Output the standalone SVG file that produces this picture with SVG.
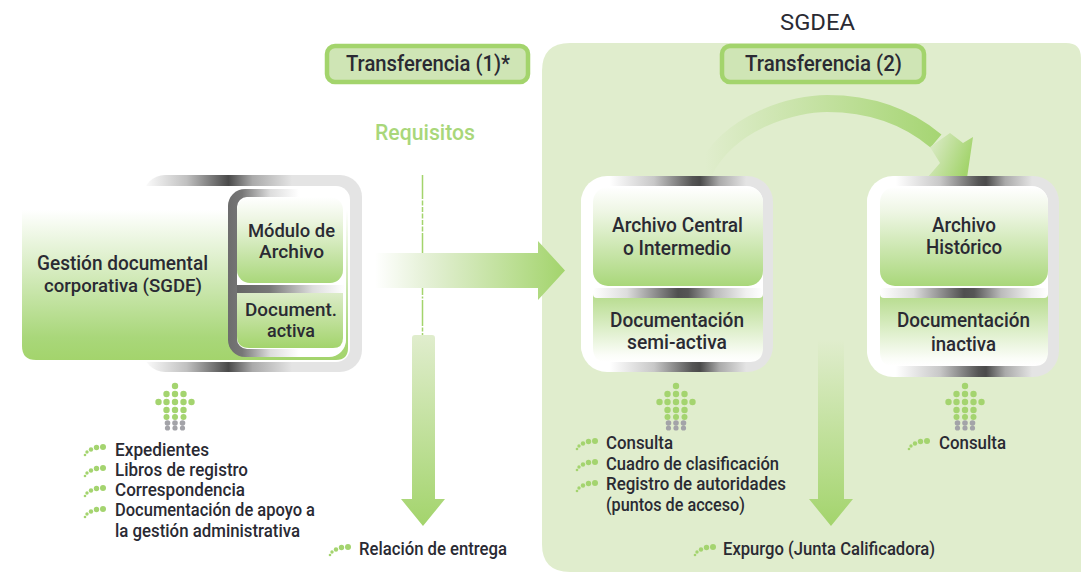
<svg xmlns="http://www.w3.org/2000/svg" width="1081" height="572" viewBox="0 0 1081 572">
<style>
text{font-family:Roboto,"Liberation Sans",sans-serif;font-weight:500;fill:#2a2a33}
.s20{font-size:22.5px}.s19{font-size:22px}.s18{font-size:20px}.s17{font-size:17.800px}.s16{font-size:17.500px}
.g{fill:#a4d46f}.d{fill:#a3a3a8}
.tb{fill:#cfe5b5;stroke:#a3d46c;stroke-width:4.500}
</style>
<defs>
<linearGradient id="top" x1="0" y1="0" x2="0" y2="1"><stop offset="0" stop-color="#fff"/><stop offset=".25" stop-color="#eef6e4"/><stop offset="1" stop-color="#a9d77a"/></linearGradient>
<linearGradient id="sgde" x1="0" y1="0" x2="0" y2="1"><stop offset="0" stop-color="#fff"/><stop offset=".85" stop-color="#a9d77a"/><stop offset="1" stop-color="#a3d46c"/></linearGradient>
<linearGradient id="low" x1="0" y1="0" x2="0" y2="1"><stop offset="0" stop-color="#b3da88"/><stop offset=".9" stop-color="#fbfdf8"/><stop offset="1" stop-color="#fff"/></linearGradient>
<linearGradient id="act" x1="0" y1="0" x2="0" y2="1"><stop offset="0" stop-color="#dcecc8"/><stop offset="1" stop-color="#a3d46c"/></linearGradient>
<linearGradient id="frame" x1="0" y1="0" x2="1" y2="0"><stop offset="0" stop-color="#fff"/><stop offset=".15" stop-color="#fff"/><stop offset=".38" stop-color="#c8c8c8"/><stop offset=".58" stop-color="#555"/><stop offset=".62" stop-color="#4a4a4a"/><stop offset=".72" stop-color="#aaa"/><stop offset=".86" stop-color="#e4e4e4"/><stop offset="1" stop-color="#e4e4e4"/></linearGradient>
<linearGradient id="frame0" x1="0" y1="0" x2="1" y2="0"><stop offset="0" stop-color="#fff"/><stop offset=".2" stop-color="#c0c0c0"/><stop offset=".39" stop-color="#4a4a4a"/><stop offset=".5" stop-color="#aaa"/><stop offset=".68" stop-color="#e4e4e4"/><stop offset="1" stop-color="#e4e4e4"/></linearGradient>
<linearGradient id="bar" x1="0" y1="0" x2="1" y2="0"><stop offset="0" stop-color="#fff"/><stop offset=".2" stop-color="#ddd"/><stop offset=".5" stop-color="#4f4f4f"/><stop offset=".56" stop-color="#555"/><stop offset=".72" stop-color="#bbb"/><stop offset=".9" stop-color="#f0f0f0"/><stop offset="1" stop-color="#fff"/></linearGradient>
<linearGradient id="bar2" x1="0" y1="0" x2="1" y2="0"><stop offset="0" stop-color="#666"/><stop offset=".3" stop-color="#777"/><stop offset=".7" stop-color="#ddd"/><stop offset="1" stop-color="#fff"/></linearGradient>
<linearGradient id="brk" x1="0" y1="0" x2="1" y2="0"><stop offset="0" stop-color="#6d6d6d"/><stop offset=".12" stop-color="#777"/><stop offset=".36" stop-color="#ddd"/><stop offset=".6" stop-color="#fff"/></linearGradient>
<linearGradient id="hArrow" gradientUnits="userSpaceOnUse" x1="375" y1="0" x2="565" y2="0"><stop offset="0" stop-color="#fff"/><stop offset=".3" stop-color="#e2efd2"/><stop offset="1" stop-color="#a3d46c"/></linearGradient>
<linearGradient id="vArrow" x1="0" y1="0" x2="0" y2="1"><stop offset="0" stop-color="#e0edcd"/><stop offset="1" stop-color="#a3d46c"/></linearGradient>
<linearGradient id="cArrow" gradientUnits="userSpaceOnUse" x1="705" y1="0" x2="940" y2="0"><stop offset="0" stop-color="#e0edcd"/><stop offset="1" stop-color="#a6d573"/></linearGradient>
<linearGradient id="cHead" gradientUnits="userSpaceOnUse" x1="932" y1="150" x2="968" y2="165"><stop offset="0" stop-color="#d5e8bd"/><stop offset="1" stop-color="#a3d46c"/></linearGradient>
<g id="up">
<circle class="g" cx="0" cy="0" r="3.200"/>
<circle class="g" cx="-8.500" cy="8" r="3.200"/><circle class="g" cx="0" cy="8" r="3.200"/><circle class="g" cx="8.500" cy="8" r="3.200"/>
<circle class="g" cx="-16.500" cy="16" r="3.200"/><circle class="g" cx="-8.500" cy="16" r="3.200"/><circle class="g" cx="0" cy="16" r="3.200"/><circle class="g" cx="8.500" cy="16" r="3.200"/><circle class="g" cx="16.500" cy="16" r="3.200"/>
<circle class="g" cx="-8.500" cy="24" r="3.200"/><circle class="g" cx="0" cy="24" r="3.200"/><circle class="g" cx="8.500" cy="24" r="3.200"/>
<circle class="g" cx="-8.500" cy="31" r="3"/><circle class="g" cx="0" cy="31" r="3"/><circle class="g" cx="8.500" cy="31" r="3"/>
<circle class="d" cx="-7.500" cy="37" r="2.800"/><circle class="d" cx="0" cy="37" r="2.800"/><circle class="d" cx="7.500" cy="37" r="2.800"/>
<circle class="d" cx="-7.500" cy="42" r="2.600"/><circle class="d" cx="0" cy="42" r="2.600"/><circle class="d" cx="7.500" cy="42" r="2.600"/>
</g>
<g id="bul">
<circle class="g" cx="0" cy="0" r="3"/><circle class="g" cx="-6.500" cy=".5" r="2.700"/><circle class="g" cx="-12" cy="2.500" r="2.200"/><circle class="g" cx="-16" cy="5" r="1.700"/><circle class="g" cx="-18" cy="8" r="1.300"/>
</g>
</defs>
<rect width="1081" height="572" fill="#fff"/>
<path id="panel-sgdea" d="M570 43H1066Q1081 43 1081 58V572H570Q542 572 542 544V71Q542 43 570 43Z" fill="#e0edcd"/>
<text class="s20" x="780" y="30" textLength="75" lengthAdjust="spacingAndGlyphs" style="font-weight:400">SGDEA</text>
<g id="transferencia-1"><rect class="tb" x="327" y="46" width="201" height="36" rx="8"/><text class="s20" x="346" y="71" textLength="164" lengthAdjust="spacingAndGlyphs">Transferencia (1)*</text></g>
<g id="transferencia-2"><rect class="tb" x="722" y="46" width="202" height="36" rx="8"/><text class="s20" x="745" y="71" textLength="157" lengthAdjust="spacingAndGlyphs">Transferencia (2)</text></g>
<g id="requisitos"><text x="375" y="140" class="s19" style="fill:#a9d77a" textLength="100" lengthAdjust="spacingAndGlyphs">Requisitos</text></g>
<g id="connectors">
<line x1="422.500" y1="175" x2="422.500" y2="253" stroke="#a3d46c" stroke-width="1.500" stroke-dasharray="24 1.500 5 1.500 5 1.500 5 1.500 5 1.500 5 1.500 24"/>
<line x1="422.500" y1="288" x2="422.500" y2="336" stroke="#a3d46c" stroke-width="1.500" stroke-dasharray="7 1.500 2 1.500 26 1.500 4 1.500 6"/>
<path d="M375 253H538V241L565 270.500L538 300V288H375Z" fill="url(#hArrow)"/>
<path d="M415 335H432Q435 335 435 338V499H445L423 526L401 499H412V338Q412 335 415 335Z" fill="url(#vArrow)"/>
<path d="M818 340H844V499H853L831 526L809 499H818Z" fill="url(#vArrow)"/>
<path d="M704 172C730 120 795 103.500 827 103.500C870 103.500 905 115 936 141" fill="none" stroke="url(#cArrow)" stroke-width="17"/>
<path d="M950 133L963 143L973 137L967 178L927 178L940 163L930 147Z" fill="url(#cHead)"/>
</g>
<g id="node-sgde">
<rect x="143" y="175" width="219" height="197" rx="22" fill="url(#frame0)"/>
<rect x="130" y="186" width="220" height="176" rx="14" fill="#fff"/>
<path d="M22 210H348V348Q348 360 336 360H36Q22 360 22 346Z" fill="url(#sgde)"/>
<rect x="228" y="189" width="118" height="168" rx="17" fill="url(#brk)"/>
<rect x="237" y="197" width="109" height="152" rx="10" fill="#fff"/>
<rect x="237" y="197" width="106" height="86" rx="13" fill="url(#top)"/>
<rect x="237" y="285" width="108" height="8" fill="url(#bar2)"/>
<path d="M237 293H343V338Q343 348 333 348H249Q237 348 237 336Z" fill="url(#act)"/>
<text class="s18" x="37" y="270" textLength="171" lengthAdjust="spacingAndGlyphs">Gestión documental</text>
<text class="s17" x="44" y="292" textLength="158" lengthAdjust="spacingAndGlyphs">corporativa (SGDE)</text>
<text class="s17" x="248" y="237" textLength="87" lengthAdjust="spacingAndGlyphs">Módulo de</text>
<text class="s17" x="259" y="258" textLength="65" lengthAdjust="spacingAndGlyphs">Archivo</text>
<text class="s17" x="245" y="316" textLength="92" lengthAdjust="spacingAndGlyphs">Document.</text>
<text class="s17" x="267" y="337" textLength="48" lengthAdjust="spacingAndGlyphs">activa</text>
</g>
<g id="node-central">
<rect x="581" y="176" width="192" height="196" rx="26" fill="url(#frame)"/>
<rect x="581" y="186" width="182" height="176" rx="16" fill="#fff"/>
<path d="M593 292H763V348Q763 362 749 362H607Q593 362 593 348Z" fill="url(#low)"/>
<rect x="593" y="288" width="170" height="10" rx="4" fill="url(#bar)"/>
<rect x="593" y="187" width="170" height="99" rx="15" fill="url(#top)"/>
<text class="s18" x="612" y="232" textLength="131" lengthAdjust="spacingAndGlyphs">Archivo Central</text>
<text class="s18" x="623" y="255" textLength="108" lengthAdjust="spacingAndGlyphs">o Intermedio</text>
<text class="s18" x="610" y="327" textLength="134" lengthAdjust="spacingAndGlyphs">Documentación</text>
<text class="s18" x="627" y="349" textLength="100" lengthAdjust="spacingAndGlyphs">semi-activa</text>
</g>
<g id="node-historico">
<rect x="867" y="176" width="192" height="201" rx="26" fill="url(#frame)"/>
<rect x="867" y="186" width="181" height="180" rx="16" fill="#fff"/>
<path d="M880 292H1048V352Q1048 366 1034 366H894Q880 366 880 352Z" fill="url(#low)"/>
<rect x="880" y="288" width="168" height="10" rx="4" fill="url(#bar)"/>
<rect x="880" y="187" width="168" height="99" rx="15" fill="url(#top)"/>
<text class="s18" x="932" y="232" textLength="64" lengthAdjust="spacingAndGlyphs">Archivo</text>
<text class="s18" x="926" y="254" textLength="76" lengthAdjust="spacingAndGlyphs">Histórico</text>
<text class="s18" x="897" y="327" textLength="133" lengthAdjust="spacingAndGlyphs">Documentación</text>
<text class="s18" x="931" y="351" textLength="65" lengthAdjust="spacingAndGlyphs">inactiva</text>
</g>
<g id="list-sgde">
<use href="#up" x="175" y="386"/>
<use href="#bul" x="103" y="447"/><use href="#bul" x="103" y="468"/><use href="#bul" x="103" y="488"/><use href="#bul" x="103" y="509"/>
<text class="s16" x="115" y="456" textLength="94" lengthAdjust="spacingAndGlyphs">Expedientes</text>
<text class="s16" x="115" y="475.500" textLength="133" lengthAdjust="spacingAndGlyphs">Libros de registro</text>
<text class="s16" x="115" y="496" textLength="130" lengthAdjust="spacingAndGlyphs">Correspondencia</text>
<text class="s16" x="115" y="516" textLength="200" lengthAdjust="spacingAndGlyphs">Documentación de apoyo a</text>
<text class="s16" x="115" y="537" textLength="185" lengthAdjust="spacingAndGlyphs">la gestión administrativa</text>
</g>
<g id="list-central">
<use href="#up" x="676" y="386"/>
<use href="#bul" x="595" y="441"/><use href="#bul" x="595" y="462"/><use href="#bul" x="595" y="483"/>
<text class="s16" x="606" y="449" textLength="67" lengthAdjust="spacingAndGlyphs">Consulta</text>
<text class="s16" x="606" y="469.500" textLength="173" lengthAdjust="spacingAndGlyphs">Cuadro de clasificación</text>
<text class="s16" x="606" y="490" textLength="180" lengthAdjust="spacingAndGlyphs">Registro de autoridades</text>
<text class="s16" x="606" y="511" textLength="139" lengthAdjust="spacingAndGlyphs">(puntos de acceso)</text>
</g>
<g id="list-historico">
<use href="#up" x="965" y="386"/>
<use href="#bul" x="927" y="441"/>
<text class="s16" x="939" y="449" textLength="67" lengthAdjust="spacingAndGlyphs">Consulta</text>
</g>
<g id="item-relacion">
<use href="#bul" x="348" y="547"/>
<text class="s16" x="359" y="555" textLength="148" lengthAdjust="spacingAndGlyphs">Relación de entrega</text>
</g>
<g id="item-expurgo">
<use href="#bul" x="713" y="547"/>
<text class="s16" x="723" y="555" textLength="212" lengthAdjust="spacingAndGlyphs">Expurgo (Junta Calificadora)</text>
</g>
</svg>
